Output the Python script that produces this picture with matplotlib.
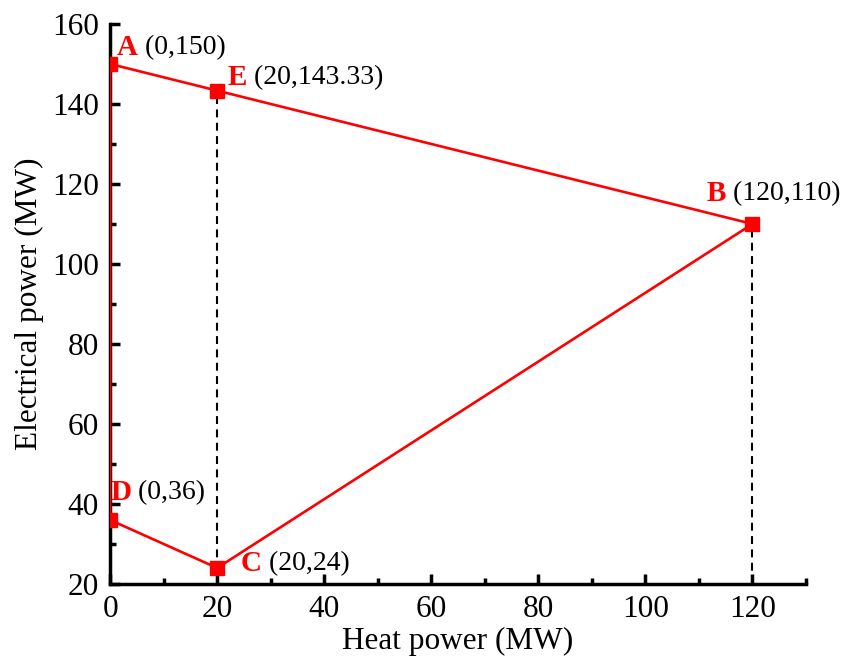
import numpy as np
import matplotlib.pyplot as plt
from matplotlib.ticker import MultipleLocator

plt.rcParams['font.family'] = ['Liberation Serif', 'DejaVu Serif']

# 运行区域顶点 A-E-B-C-D
names = ['A', 'E', 'B', 'C', 'D']
heat = [0, 20, 120, 20, 0]
elec = [150, 143.33, 110, 24, 36]
coords = ['(0,150)', '(20,143.33)', '(120,110)', '(20,24)', '(0,36)']

fig = plt.figure(figsize=(8.47, 6.71), dpi=100)
ax = fig.add_axes([0.130, 0.1297, 0.8216, 0.8346])

# 闭合多边形
px = heat + [heat[0]]
py = elec + [elec[0]]
ax.plot(px, py, color='red', lw=1.9, zorder=3)
ax.plot(heat, elec, ls='none', marker='s', ms=9.5, color='red', zorder=4)

# 虚线 E、B 到横轴
for i in [1, 2]:
    ax.plot([heat[i], heat[i]], [20, elec[i]], color='black', ls=(0, (3.8, 2.6)), lw=1.5, zorder=2)

# 标注
offs = {'A': (5, 12), 'E': (7.5, 9.5), 'B': (-33, 22), 'C': (17, 3), 'D': (0, 20)}
for n, x, y, c in zip(names, heat, elec, coords):
    dx, dy = offs[n]
    t = ax.annotate(n, (x, y), xytext=(dx, dy), textcoords='offset points',
                    color='red', fontweight='bold', fontsize=21, va='center', ha='left')
    ax.annotate(' ' + c, xy=(1, 0.5), xycoords=t, color='black', fontsize=20,
                va='center', ha='left')

ax.set_xlim(0, 130)
ax.set_ylim(20, 160)
ax.xaxis.set_major_locator(MultipleLocator(20))
ax.xaxis.set_minor_locator(MultipleLocator(10))
ax.yaxis.set_major_locator(MultipleLocator(20))
ax.yaxis.set_minor_locator(MultipleLocator(10))
ax.set_xticks([0, 20, 40, 60, 80, 100, 120])

for s in ['top', 'right']:
    ax.spines[s].set_visible(False)
for s in ['left', 'bottom']:
    ax.spines[s].set_linewidth(2.5)
ax.tick_params(which='major', direction='in', length=7, width=2.5, labelsize=22.5, pad=8)
ax.tick_params(which='minor', direction='in', length=4, width=2.5)

ax.set_xlabel('Heat power (MW)', fontsize=22.5, labelpad=2)
ax.set_ylabel('Electrical power (MW)', fontsize=22.5, labelpad=6)

fig.savefig('out.png', dpi=100)
